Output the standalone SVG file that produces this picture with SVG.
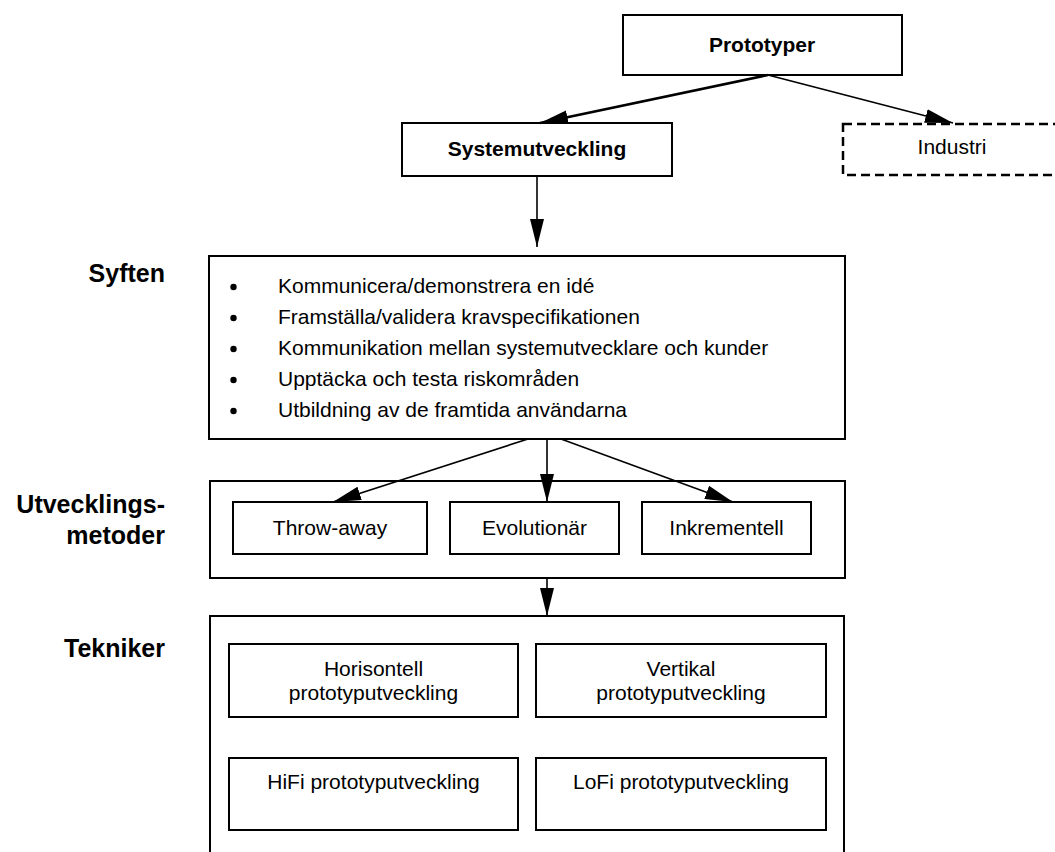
<svg xmlns="http://www.w3.org/2000/svg" width="1055" height="852" viewBox="0 0 1055 852">
  <defs>
    <style>
      .box { fill: #ffffff; stroke: #000000; stroke-width: 2; }
      .dash { fill: #ffffff; stroke: #000000; stroke-width: 2.5; stroke-dasharray: 9 5; }
      .t { font-family: "Liberation Sans", Arial, sans-serif; font-size: 21px; fill: #000000; }
      .b { font-family: "Liberation Sans", Arial, sans-serif; font-size: 21px; font-weight: bold; fill: #000000; }
      .lbl { font-family: "Liberation Sans", Arial, sans-serif; font-size: 25px; font-weight: bold; fill: #000000; text-anchor: end; }
      .c { text-anchor: middle; }
      .dot { fill: #000000; }
      .edge { fill: none; stroke: #000000; stroke-width: 1.6; }
      .edge.heavy { stroke-width: 2.6; }
    </style>
    <marker id="arrow" markerUnits="userSpaceOnUse" markerWidth="28" markerHeight="14" refX="28" refY="7" orient="auto">
      <path d="M0,0 L28,7 L0,14 z" fill="#000000"/>
    </marker>
  </defs>

  <rect width="1055" height="852" fill="#ffffff"/>

  <!-- row labels -->
  <g id="labels">
    <text class="lbl" x="165" y="282">Syften</text>
    <text class="lbl" x="165" y="513">Utvecklings-</text>
    <text class="lbl" x="165" y="544">metoder</text>
    <text class="lbl" x="165" y="657">Tekniker</text>
  </g>

  <!-- top level -->
  <g id="prototyper">
    <rect class="box" x="623" y="15" width="279" height="60"/>
    <text class="b c" x="762" y="52">Prototyper</text>
  </g>

  <g id="systemutveckling">
    <rect class="box" x="402" y="123" width="270" height="53"/>
    <text class="b c" x="537" y="156">Systemutveckling</text>
  </g>

  <g id="industri">
    <rect class="dash" x="843" y="124" width="219" height="51"/>
    <text class="t c" x="952" y="154">Industri</text>
  </g>

  <!-- purposes -->
  <g id="syften">
    <rect class="box" x="209" y="256" width="636" height="183"/>
    <circle class="dot" cx="233.5" cy="287" r="3.2"/>
    <circle class="dot" cx="233.5" cy="318" r="3.2"/>
    <circle class="dot" cx="233.5" cy="349" r="3.2"/>
    <circle class="dot" cx="233.5" cy="380" r="3.2"/>
    <circle class="dot" cx="233.5" cy="411" r="3.2"/>
    <g class="t">
      <text x="278" y="293">Kommunicera/demonstrera en idé</text>
      <text x="278" y="324">Framställa/validera kravspecifikationen</text>
      <text x="278" y="355">Kommunikation mellan systemutvecklare och kunder</text>
      <text x="278" y="386">Upptäcka och testa riskområden</text>
      <text x="278" y="417">Utbildning av de framtida användarna</text>
    </g>
  </g>

  <!-- development methods -->
  <g id="utvecklingsmetoder">
    <rect class="box" x="210" y="481" width="635" height="97"/>
  </g>
  <g id="throw-away">
    <rect class="box" x="233" y="502" width="194" height="52"/>
    <text class="t c" x="330" y="535">Throw-away</text>
  </g>
  <g id="evolutionar">
    <rect class="box" x="450" y="502" width="169" height="52"/>
    <text class="t c" x="534.5" y="535">Evolutionär</text>
  </g>
  <g id="inkrementell">
    <rect class="box" x="642" y="502" width="169" height="52"/>
    <text class="t c" x="726.5" y="535">Inkrementell</text>
  </g>

  <!-- techniques -->
  <g id="tekniker">
    <rect class="box" x="210" y="616" width="634" height="260"/>
  </g>
  <g id="horisontell">
    <rect class="box" x="229" y="644" width="289" height="73"/>
    <text class="t c" x="373.5" y="676">Horisontell</text>
    <text class="t c" x="373.5" y="700">prototyputveckling</text>
  </g>
  <g id="vertikal">
    <rect class="box" x="536" y="644" width="290" height="73"/>
    <text class="t c" x="681" y="676">Vertikal</text>
    <text class="t c" x="681" y="700">prototyputveckling</text>
  </g>
  <g id="hifi">
    <rect class="box" x="229" y="758" width="289" height="72"/>
    <text class="t c" x="373.5" y="789">HiFi prototyputveckling</text>
  </g>
  <g id="lofi">
    <rect class="box" x="536" y="758" width="290" height="72"/>
    <text class="t c" x="681" y="789">LoFi prototyputveckling</text>
  </g>

  <!-- connectors -->
  <g id="connectors">
    <line class="edge heavy" x1="768" y1="75" x2="540" y2="123" marker-end="url(#arrow)"/>
    <line class="edge" x1="768" y1="75" x2="953" y2="123" marker-end="url(#arrow)"/>
    <line class="edge" x1="537" y1="176" x2="537" y2="247" marker-end="url(#arrow)"/>
    <line class="edge" x1="528" y1="439" x2="333" y2="502" marker-end="url(#arrow)"/>
    <line class="edge" x1="547" y1="439" x2="547" y2="502" marker-end="url(#arrow)"/>
    <line class="edge" x1="561" y1="439" x2="733" y2="502" marker-end="url(#arrow)"/>
    <line class="edge" x1="547" y1="578" x2="547" y2="616" marker-end="url(#arrow)"/>
  </g>
</svg>
